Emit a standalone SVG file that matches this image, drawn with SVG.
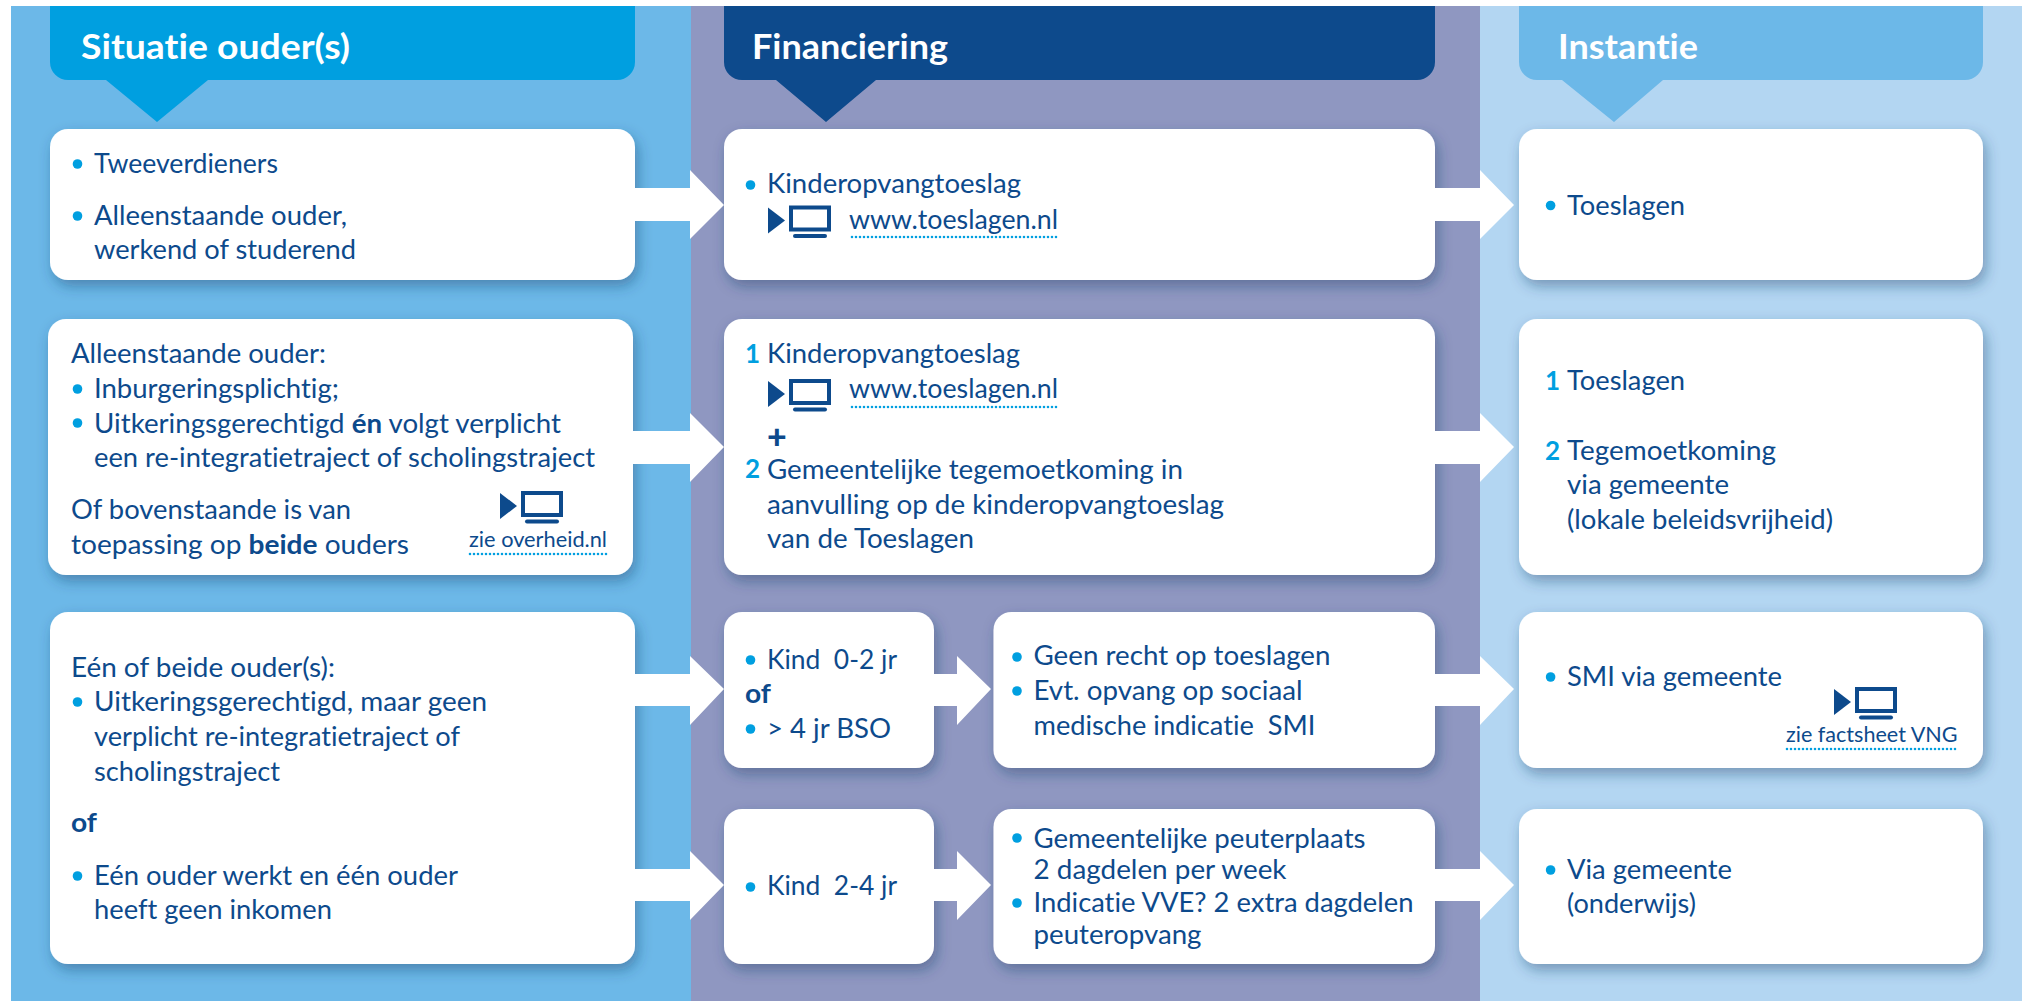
<svg xmlns="http://www.w3.org/2000/svg" xmlns:xlink="http://www.w3.org/1999/xlink" width="2022" height="1001" viewBox="0 0 2022 1001">
<style>
text{font-family:"Lato","Noto Sans",sans-serif;font-size:26px;fill:#0d4a8c;font-variant-ligatures:none}
.h{font-size:35px;font-weight:700;fill:#fff}
.s{font-size:21px}
.b{font-weight:700}
.n{font-weight:700;fill:#009fe0}
.box{fill:#fff;filter:url(#sh)}
.dot{fill:#009fe0}
.ul{stroke:#009fe0;stroke-width:2.6;stroke-linecap:round;stroke-dasharray:0 4;fill:none}
.arrow{fill:#fff}
</style>
<defs>
<filter id="sh" x="-20%" y="-20%" width="140%" height="150%"><feDropShadow dx="3" dy="6" stdDeviation="7" flood-color="#1c3a66" flood-opacity=".42"/></filter>
<g id="icon"><polygon points="0,2 0,28 17,15" fill="#0d4a8c"/><rect x="23" y="2" width="38" height="22" fill="none" stroke="#0d4a8c" stroke-width="4"/><rect x="25" y="28.5" width="34" height="4" rx="2" fill="#0d4a8c"/></g>
</defs>
<rect width="2022" height="1001" fill="#fff"/>
<rect x="11" y="6" width="680" height="995" fill="#6cb8e8"/>
<rect x="691" y="6" width="789" height="995" fill="#8f97c1"/>
<rect x="1480" y="6" width="542" height="995" fill="#b3d6f2"/>

<g id="header-situatie"><path d="M50 6H635V62a18 18 0 0 1-18 18H208L157 122 106 80H68a18 18 0 0 1-18-18Z" fill="#009fe0"/><text class="h" x="81" y="59" textLength="269" lengthAdjust="spacingAndGlyphs">Situatie ouder(s)</text></g>
<g id="header-financiering"><path d="M724 6H1435V62a18 18 0 0 1-18 18H876L826 122 776 80H742a18 18 0 0 1-18-18Z" fill="#0d4a8c"/><text class="h" x="752" y="59" textLength="196" lengthAdjust="spacingAndGlyphs">Financiering</text></g>
<g id="header-instantie"><path d="M1519 6H1983V62a18 18 0 0 1-18 18H1663L1614 122 1562 80H1537a18 18 0 0 1-18-18Z" fill="#6cb8e8"/><text class="h" x="1558" y="59" textLength="140" lengthAdjust="spacingAndGlyphs">Instantie</text></g>

<g id="s1"><rect class="box" x="50" y="129" width="585" height="151" rx="18"/>
<circle class="dot" cx="77.5" cy="164" r="4.8"/><text x="94" y="173" textLength="184" lengthAdjust="spacingAndGlyphs">Tweeverdieners</text>
<circle class="dot" cx="77.5" cy="216" r="4.8"/><text x="94" y="225" textLength="253" lengthAdjust="spacingAndGlyphs">Alleenstaande ouder,</text><text x="94" y="259" textLength="262" lengthAdjust="spacingAndGlyphs">werkend of studerend</text></g>

<g id="s2"><rect class="box" x="48" y="319" width="585" height="256" rx="18"/>
<text x="71" y="363" textLength="255" lengthAdjust="spacingAndGlyphs">Alleenstaande ouder:</text>
<circle class="dot" cx="77.5" cy="389" r="4.8"/><text x="94" y="398" textLength="245" lengthAdjust="spacingAndGlyphs">Inburgeringsplichtig;</text>
<circle class="dot" cx="77.5" cy="423" r="4.8"/><text x="94" y="432.5" textLength="467" lengthAdjust="spacingAndGlyphs">Uitkeringsgerechtigd <tspan class="b">én</tspan> volgt verplicht</text>
<text x="94" y="467" textLength="501" lengthAdjust="spacingAndGlyphs">een re-integratietraject of scholingstraject</text>
<text x="71" y="518.5" textLength="280" lengthAdjust="spacingAndGlyphs">Of bovenstaande is van</text>
<text x="71" y="554" textLength="338" lengthAdjust="spacingAndGlyphs">toepassing op <tspan class="b">beide</tspan> ouders</text>
<use xlink:href="#icon" href="#icon" x="500" y="491"/>
<text class="s" x="469" y="547" textLength="138" lengthAdjust="spacingAndGlyphs">zie overheid.nl</text><path class="ul" d="M470 554H607"/></g>

<g id="s3"><rect class="box" x="50" y="612" width="585" height="352" rx="18"/>
<text x="71" y="677" textLength="264" lengthAdjust="spacingAndGlyphs">Eén of beide ouder(s):</text>
<circle class="dot" cx="77.5" cy="702" r="4.8"/><text x="94" y="711" textLength="393" lengthAdjust="spacingAndGlyphs">Uitkeringsgerechtigd, maar geen</text>
<text x="94" y="746" textLength="366" lengthAdjust="spacingAndGlyphs">verplicht re-integratietraject of</text>
<text x="94" y="781" textLength="186" lengthAdjust="spacingAndGlyphs">scholingstraject</text>
<text class="b" x="71" y="832" textLength="26" lengthAdjust="spacingAndGlyphs">of</text>
<circle class="dot" cx="77.5" cy="876" r="4.8"/><text x="94" y="885" textLength="364" lengthAdjust="spacingAndGlyphs">Eén ouder werkt en één ouder</text>
<text x="94" y="919" textLength="238" lengthAdjust="spacingAndGlyphs">heeft geen inkomen</text></g>

<g id="f1"><rect class="box" x="724" y="129" width="711" height="151" rx="18"/>
<circle class="dot" cx="750.5" cy="185" r="4.8"/><text x="767" y="193" textLength="254" lengthAdjust="spacingAndGlyphs">Kinderopvangtoeslag</text>
<use xlink:href="#icon" href="#icon" x="768" y="205.5"/>
<text x="849" y="229" textLength="209" lengthAdjust="spacingAndGlyphs">www.toeslagen.nl</text><path class="ul" d="M852 237H1059"/></g>

<g id="f2"><rect class="box" x="724" y="319" width="711" height="256" rx="18"/>
<text class="n" x="745" y="362.5">1</text><text x="767" y="362.5" textLength="253" lengthAdjust="spacingAndGlyphs">Kinderopvangtoeslag</text>
<use xlink:href="#icon" href="#icon" x="768" y="379"/>
<text x="849" y="398" textLength="209" lengthAdjust="spacingAndGlyphs">www.toeslagen.nl</text><path class="ul" d="M852 407H1059"/>
<text class="b" x="767" y="449" style="font-size:34px;font-weight:900">+</text>
<text class="n" x="745" y="478">2</text><text x="767" y="478.5" textLength="416" lengthAdjust="spacingAndGlyphs">Gemeentelijke tegemoetkoming in</text>
<text x="767" y="514" textLength="457" lengthAdjust="spacingAndGlyphs">aanvulling op de kinderopvangtoeslag</text>
<text x="767" y="548" textLength="207" lengthAdjust="spacingAndGlyphs">van de Toeslagen</text></g>

<g id="f3a"><rect class="box" x="724" y="612" width="210" height="156" rx="18"/>
<circle class="dot" cx="750.5" cy="660" r="4.8"/><text x="767" y="669" xml:space="preserve" textLength="130" lengthAdjust="spacingAndGlyphs">Kind  0-2 jr</text>
<text class="b" x="745" y="703" textLength="26" lengthAdjust="spacingAndGlyphs">of</text>
<circle class="dot" cx="750.5" cy="729" r="4.8"/><text x="767" y="738" textLength="124" lengthAdjust="spacingAndGlyphs">&gt; 4 jr BSO</text></g>

<g id="f3b"><rect class="box" x="993.5" y="612" width="441.5" height="156" rx="18"/>
<circle class="dot" cx="1017" cy="657" r="4.8"/><text x="1033.5" y="665" textLength="297" lengthAdjust="spacingAndGlyphs">Geen recht op toeslagen</text>
<circle class="dot" cx="1017" cy="691" r="4.8"/><text x="1033.5" y="700" textLength="269" lengthAdjust="spacingAndGlyphs">Evt. opvang op sociaal</text>
<text x="1033.5" y="735" xml:space="preserve" textLength="282" lengthAdjust="spacingAndGlyphs">medische indicatie  SMI</text></g>

<g id="f4a"><rect class="box" x="724" y="809" width="210" height="155" rx="18"/>
<circle class="dot" cx="750.5" cy="887" r="4.8"/><text x="767" y="895" xml:space="preserve" textLength="130" lengthAdjust="spacingAndGlyphs">Kind  2-4 jr</text></g>

<g id="f4b"><rect class="box" x="993.5" y="809" width="441.5" height="155" rx="18"/>
<circle class="dot" cx="1017" cy="838" r="4.8"/><text x="1033.5" y="848" textLength="332" lengthAdjust="spacingAndGlyphs">Gemeentelijke peuterplaats</text>
<text x="1033.5" y="879" textLength="253" lengthAdjust="spacingAndGlyphs">2 dagdelen per week</text>
<circle class="dot" cx="1017" cy="903" r="4.8"/><text x="1033.5" y="912" textLength="380" lengthAdjust="spacingAndGlyphs">Indicatie VVE? 2 extra dagdelen</text>
<text x="1033.5" y="944" textLength="168" lengthAdjust="spacingAndGlyphs">peuteropvang</text></g>

<g id="i1"><rect class="box" x="1519" y="129" width="464" height="151" rx="18"/>
<circle class="dot" cx="1550.6" cy="205.5" r="4.8"/><text x="1567" y="215" textLength="118" lengthAdjust="spacingAndGlyphs">Toeslagen</text></g>

<g id="i2"><rect class="box" x="1519" y="319" width="464" height="256" rx="18"/>
<text class="n" x="1545" y="390">1</text><text x="1567" y="390" textLength="118" lengthAdjust="spacingAndGlyphs">Toeslagen</text>
<text class="n" x="1545" y="460">2</text><text x="1567" y="460" textLength="209" lengthAdjust="spacingAndGlyphs">Tegemoetkoming</text>
<text x="1567" y="494" textLength="162" lengthAdjust="spacingAndGlyphs">via gemeente</text>
<text x="1567" y="529" textLength="266" lengthAdjust="spacingAndGlyphs">(lokale beleidsvrijheid)</text></g>

<g id="i3"><rect class="box" x="1519" y="612" width="464" height="156" rx="18"/>
<circle class="dot" cx="1550.6" cy="677" r="4.8"/><text x="1567" y="686" textLength="215" lengthAdjust="spacingAndGlyphs">SMI via gemeente</text>
<use xlink:href="#icon" href="#icon" x="1834" y="687"/>
<text class="s" x="1786" y="742" textLength="171.5" lengthAdjust="spacingAndGlyphs">zie factsheet VNG</text><path class="ul" d="M1787 749H1957"/></g>

<g id="i4"><rect class="box" x="1519" y="809" width="464" height="155" rx="18"/>
<circle class="dot" cx="1550.6" cy="870" r="4.8"/><text x="1567" y="879" textLength="165" lengthAdjust="spacingAndGlyphs">Via gemeente</text>
<text x="1567" y="913" textLength="129" lengthAdjust="spacingAndGlyphs">(onderwijs)</text></g>

<g id="connectors" class="arrow">
<polygon points="635,188 690,188 690,170 724,205 690,239 690,221 635,221"/>
<polygon points="1435,188 1480,188 1480,170 1514,205 1480,239 1480,221 1435,221"/>
<polygon points="633,431 690,431 690,413 724,447 690,482 690,464 633,464"/>
<polygon points="1435,431 1480,431 1480,413 1514,447 1480,482 1480,464 1435,464"/>
<polygon points="635,674 690,674 690,656 724,689 690,725 690,706 635,706"/>
<polygon points="934,674 957,674 957,656 991,689 957,725 957,706 934,706"/>
<polygon points="1435,674 1480,674 1480,656 1514,689 1480,725 1480,706 1435,706"/>
<polygon points="635,869 690,869 690,851 724,885 690,920 690,901 635,901"/>
<polygon points="934,869 957,869 957,851 991,885 957,920 957,901 934,901"/>
<polygon points="1435,869 1480,869 1480,851 1514,885 1480,920 1480,901 1435,901"/>
</g>
</svg>
